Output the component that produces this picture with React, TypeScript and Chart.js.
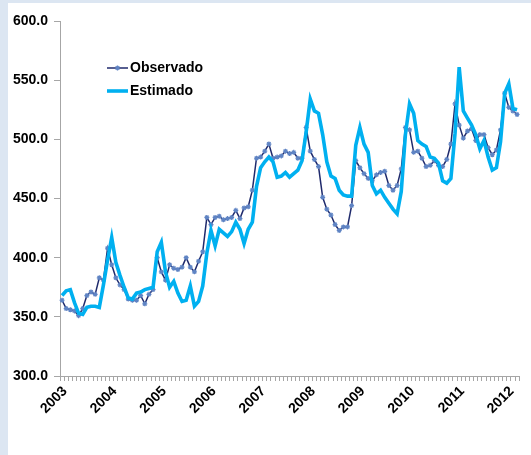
import React, { useEffect, useRef } from "react";
import { Chart, registerables } from "chart.js";

Chart.register(...registerables);

// Years shown on the category axis (monthly data, Jan 2003 – Mar 2012)
const years = ["2003", "2004", "2005", "2006", "2007", "2008", "2009", "2010", "2011", "2012"];

const observado = [
  364, 357, 356, 355, 351, 357, 368, 371, 369, 383, 381, 408,
  394, 383, 377, 373, 365, 364, 364, 368, 361, 369, 373, 400,
  388, 381, 394, 391, 390, 392, 400, 392, 388, 397, 405, 434,
  428, 434, 435, 432, 433, 434, 440, 433, 442, 443, 457, 484,
  485, 490, 496, 484, 485, 486, 490, 488, 489, 484, 484, 510,
  490, 483, 477, 451, 441, 436, 428, 423, 426, 426, 444, 482,
  476, 471, 467, 465, 470, 472, 473, 461, 457, 461, 475, 510,
  508, 489, 490, 484, 477, 478, 482, 478, 477, 483, 496, 530,
  512, 501, 507, 509, 499, 504, 504, 493, 487, 491, 508, 539,
  527, 524, 521,
];

const estimado = [
  368, 372, 373, 362, 353, 352, 358, 359, 359, 358, 377, 398,
  417, 396, 385, 375, 366, 365, 370, 371, 373, 374, 375, 405,
  413, 388, 375, 380, 370, 363, 364, 376, 359, 363, 376, 404,
  423, 410, 424, 421, 418, 422, 430, 424, 412, 424, 430, 460,
  476, 481, 485, 481, 468, 469, 472, 468, 471, 474, 482, 506,
  534, 524, 522, 504, 481, 469, 467, 457, 453, 452, 452, 495,
  510, 496, 489, 461, 454, 457, 451, 446, 441, 437, 456, 504,
  530, 522, 499, 496, 494, 485, 484, 480, 465, 463, 467, 505,
  561, 524, 518, 512, 504, 492, 499, 485, 474, 476, 498, 539,
  547, 526, 525,
];

const yMin = 300;
const yMax = 600;
const yStep = 50;

const categories: string[] = [];
years.forEach((y) => {
  for (let m = 1; m <= 12; m++) {
    if (categories.length < observado.length) {
      categories.push(`${y}-${String(m).padStart(2, "0")}`);
    }
  }
});

const FONT = "'Liberation Sans', Arial, sans-serif";
const OBS_LINE = "#1f2a6c";
const OBS_MARK = "#5f84c4";
const EST_LINE = "#00b0f0";
const AXIS = "#a6a6a6";

export default function App() {
  const ref = useRef<HTMLCanvasElement>(null);

  useEffect(() => {
    const canvas = ref.current;
    if (!canvas) return;
    const chart = new Chart(canvas, {
      type: "line",
      data: {
        labels: categories,
        datasets: [
          {
            label: "Observado",
            data: observado,
            borderColor: OBS_LINE,
            borderWidth: 1.5,
            pointStyle: "star",
            pointRadius: 2.5,
            pointBorderColor: OBS_MARK,
            pointBackgroundColor: OBS_MARK,
            pointBorderWidth: 1.2,
            tension: 0,
            order: 1,
          },
          {
            label: "Estimado",
            data: estimado,
            borderColor: EST_LINE,
            borderWidth: 3.6,
            pointRadius: 0,
            tension: 0,
            order: 0,
          },
        ],
      },
      options: {
        animation: false,
        responsive: false,
        maintainAspectRatio: false,
        layout: { padding: { top: 21, right: 8, left: 0, bottom: 0 } },
        plugins: { legend: { display: false }, tooltip: { enabled: false } },
        scales: {
          x: {
            type: "category",
            offset: true,
            grid: {
              display: true,
              drawOnChartArea: false,
              drawTicks: true,
              tickLength: 5,
              offset: true,
              color: AXIS,
            },
            border: { display: true, color: AXIS, width: 1 },
            ticks: {
              autoSkip: false,
              minRotation: 45,
              maxRotation: 45,
              padding: 2,
              labelOffset: 3,
              color: "#000",
              font: { family: FONT, size: 14, weight: "bold" },
              callback: (_v: any, i: number) => {
                const l = categories[i];
                return l && l.endsWith("-01") ? l.slice(0, 4) : "";
              },
            },
            afterFit: (s: any) => {
              s.height = 79;
            },
          },
          y: {
            min: yMin,
            max: yMax,
            grid: {
              display: true,
              drawOnChartArea: false,
              drawTicks: true,
              tickLength: 6,
              color: AXIS,
            },
            border: { display: true, color: AXIS, width: 1 },
            ticks: {
              stepSize: yStep,
              padding: 6,
              color: "#000",
              font: { family: FONT, size: 14, weight: "bold" },
              callback: (v: any) => Number(v).toFixed(1),
            },
            afterFit: (s: any) => {
              s.width = 60;
            },
          },
        },
      },
    } as any);
    return () => chart.destroy();
  }, []);

  return (
    <div
      style={{
        position: "fixed",
        left: 0,
        top: 0,
        width: 531,
        height: 455,
        background: "#dce6f2",
        overflow: "hidden",
      }}
    >
      <div
        style={{
          position: "absolute",
          left: 8,
          top: 3,
          right: 0,
          bottom: 0,
          background: "#ffffff",
        }}
      />
      <canvas
        ref={ref}
        width={531}
        height={455}
        style={{ position: "absolute", left: 0, top: 0, width: 531, height: 455, display: "block" }}
      />
      <div
        style={{
          position: "absolute",
          left: 106,
          top: 56,
          fontFamily: FONT,
          fontWeight: "bold",
          fontSize: 14,
          color: "#000",
          lineHeight: "23px",
        }}
      >
        <div style={{ display: "flex", alignItems: "center", height: 23 }}>
          <svg width={23} height={10} style={{ marginRight: 1 }}>
            <line x1={1} y1={5} x2={22} y2={5} stroke={OBS_LINE} strokeWidth={1.5} />
            <path d="M11.5 2.5 L11.5 7.5 M9 5 L14 5 M9.7 3.2 L13.3 6.8 M13.3 3.2 L9.7 6.8" stroke={OBS_MARK} strokeWidth={1.2} />
          </svg>
          <span>Observado</span>
        </div>
        <div style={{ display: "flex", alignItems: "center", height: 23 }}>
          <svg width={23} height={10} style={{ marginRight: 1 }}>
            <line x1={1} y1={5} x2={22} y2={5} stroke={EST_LINE} strokeWidth={3.6} />
          </svg>
          <span>Estimado</span>
        </div>
      </div>
    </div>
  );
}
